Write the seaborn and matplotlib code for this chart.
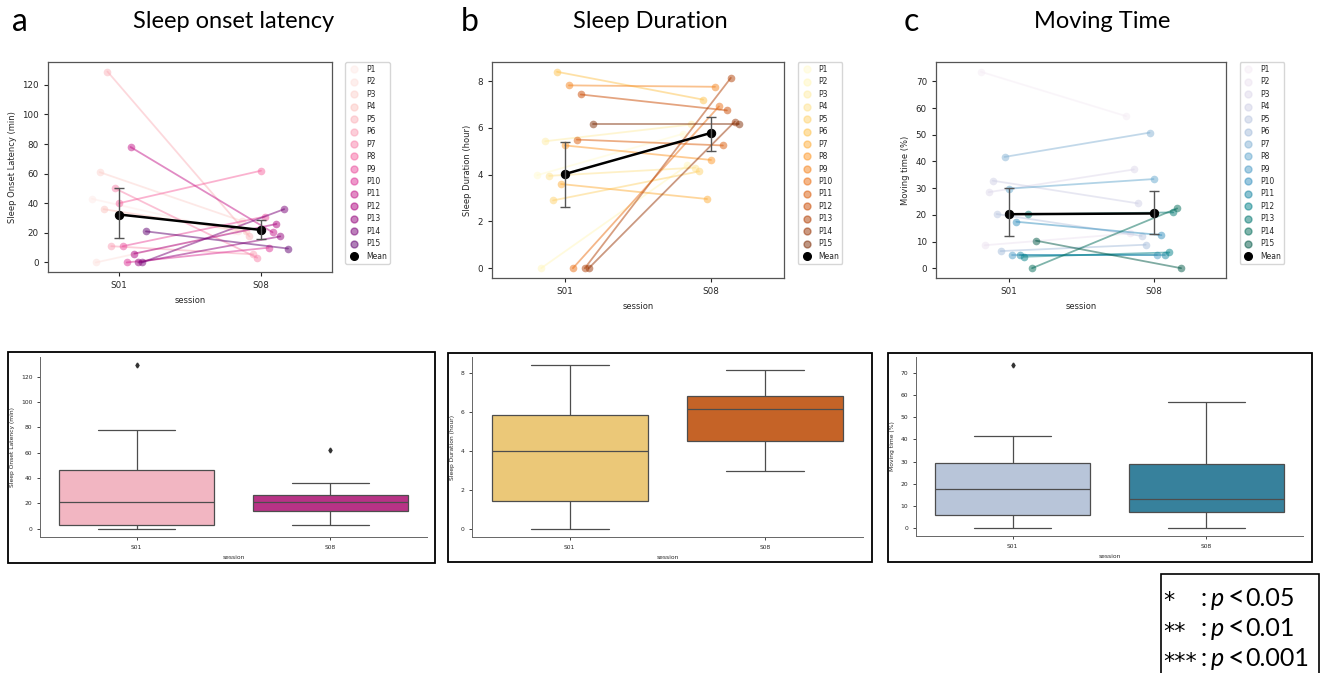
import numpy as np
import pandas as pd
import matplotlib
matplotlib.use("Agg")
import matplotlib.pyplot as plt
from matplotlib.lines import Line2D
from matplotlib.patches import Rectangle
import seaborn as sns

# ---------------- data ----------------
participants = [f"P{i}" for i in range(1, 16)]
sessions = ["S01", "S08"]

sol_s01 = [43, 0, 61, 36, 129, 11, 50, 40, 11, 0, 78, 6, 0, 0, 21]
sol_s08 = [21, 21, 28, 21, 17.6, 5.5, 3.2, 62, 31, 10, 20.4, 26, 17.6, 36, 9.4]

dur_s01 = [3.98, 0, 5.43, 3.95, 2.9, 8.4, 3.6, 5.25, 7.82, 0, 5.5, 7.43, 0, 0, 6.17]
dur_s08 = [5.75, 4.4, 6.15, 4.3, 4.14, 7.21, 2.96, 4.63, 7.76, 6.92, 5.25, 6.75, 8.14, 6.27, 6.17]

mov_s01 = [73.6, 8.6, 28.5, 32.8, 20.3, 6.4, 41.7, 29.8, 4.8, 17.4, 4.8, 4.3, 20.2, 0, 10.3]
mov_s08 = [57, 13, 37, 24.3, 12.1, 8.8, 50.8, 33.4, 4.8, 12.4, 4.8, 5.9, 20.9, 22.4, 0]

titles = ["Sleep onset latency", "Sleep Duration", "Moving Time"]
letters = ["a", "b", "c"]
ylabels = ["Sleep Onset Latency (min)", "Sleep Duration (hour)", "Moving time (%)"]
p_levels = ["*", "**", "***"]
p_values = ["0.05", "0.01", "0.001"]

# ---------------- style / layout ----------------
sns.set_style("ticks")
plt.rcParams["font.family"] = ["DejaVu Sans"]
TITLE_FONT = ["Lato", "DejaVu Sans"]

W, H = 1327, 673
fig = plt.figure(figsize=(W / 100, H / 100), dpi=100)


def px_axes(l, t, r, b):
    return fig.add_axes([l / W, 1 - b / H, (r - l) / W, (b - t) / H])


def px_rect(l, t, r, b, lw=1.3):
    fig.add_artist(Rectangle((l / W, 1 - b / H), (r - l) / W, (b - t) / H,
                             transform=fig.transFigure, fill=False,
                             edgecolor="black", linewidth=lw))


cfg = [
    dict(s01=sol_s01, s08=sol_s08, cmap="RdPu", box=["#f2b6c2", "#b83386"],
         top=(48, 62, 332, 272), bot=(40, 357, 427, 537), frame=(8, 352, 435, 563),
         title_x=234, letter_x=20),
    dict(s01=dur_s01, s08=dur_s08, cmap="YlOrBr", box=["#ebc878", "#c56327"],
         top=(492, 62, 784, 278), bot=(472, 357, 863, 537), frame=(448, 353, 872, 562),
         title_x=650, letter_x=470),
    dict(s01=mov_s01, s08=mov_s08, cmap="PuBuGn", box=["#b8c5d9", "#37819c"],
         top=(936, 62, 1226, 278), bot=(916, 357, 1303, 536), frame=(888, 353, 1312, 562),
         title_x=1102, letter_x=911),
]

offsets = np.linspace(-0.19, 0.19, len(participants))

for i, c in enumerate(cfg):
    n = len(participants)
    df = pd.DataFrame({
        "participant": participants * 2,
        "session": [sessions[0]] * n + [sessions[1]] * n,
        "value": list(c["s01"]) + list(c["s08"]),
    })
    df["snum"] = np.repeat([0, 1], n)
    df["xpos"] = df["snum"] + np.tile(offsets, 2)

    pal = sns.color_palette(c["cmap"], n)

    # ---- top: paired lines ----
    ax = px_axes(*c["top"])
    sns.lineplot(data=df, x="xpos", y="value", hue="participant", palette=pal,
                 estimator=None, marker="o", markersize=5.5, markeredgewidth=0,
                 linewidth=1.3, alpha=0.5, legend=False, ax=ax)
    sns.lineplot(data=df, x="snum", y="value", color="black", marker="o",
                 markersize=6, markeredgecolor="black", linewidth=1.8,
                 errorbar=("ci", 95), err_style="bars", seed=0,
                 err_kws=dict(capsize=3.5, elinewidth=1.0, capthick=1.0, ecolor="#555555"),
                 legend=False, ax=ax)
    ax.set_xticks([0, 1])
    ax.set_xticklabels(sessions)
    ax.set_xlim(-0.5, 1.5)
    ax.set_xlabel("session", fontsize=6)
    ax.set_ylabel(ylabels[i], fontsize=6)
    ax.tick_params(labelsize=6.3, length=3, width=0.8)
    for s in ax.spines.values():
        s.set_color("#555555")
        s.set_linewidth(0.9)

    handles = [Line2D([], [], marker="o", ls="", color=pal[k], alpha=0.5, markersize=5)
               for k in range(n)]
    handles.append(Line2D([], [], marker="o", ls="", color="black", markersize=5.5))
    ax.legend(handles, participants + ["Mean"], loc="upper left",
              bbox_to_anchor=(1.047, 1.0), borderaxespad=0, fontsize=5.5,
              labelspacing=0.45, handletextpad=0.8, handlelength=1.5,
              frameon=True)

    # ---- bottom: boxplots ----
    ax2 = px_axes(*c["bot"])
    sns.boxplot(data=df, x="session", y="value", hue="session", order=sessions,
                hue_order=sessions, palette=c["box"], legend=False, width=0.8,
                saturation=1, linewidth=0.9, linecolor="#4d4d4d",
                flierprops=dict(marker="d", markersize=2.5, markerfacecolor="#333333",
                                markeredgecolor="#333333"), ax=ax2)
    sns.despine(ax=ax2)
    ax2.set_xlabel("session", fontsize=4.3)
    ax2.set_ylabel(ylabels[i], fontsize=4.3)
    ax2.tick_params(labelsize=4.3, length=2, width=0.6)
    for s in ax2.spines.values():
        s.set_color("#666666")
        s.set_linewidth(0.7)
    px_rect(*c["frame"])

    # ---- titles ----
    fig.text(c["letter_x"] / W, 1 - 22 / H, letters[i], fontsize=23, color="black",
             ha="center", va="center", family=TITLE_FONT)
    fig.text(c["title_x"] / W, 1 - 22 / H, titles[i], fontsize=17, color="black",
             ha="center", va="center", family=TITLE_FONT)

# ---- significance key ----
px_rect(1161, 574, 1319, 690, lw=1.2)
for k in range(3):
    y = 1 - (598 + 30.5 * k) / H
    kw = dict(ha="left", va="center", color="black", family=TITLE_FONT)
    fig.text(1163 / W, 1 - (601 + 30.5 * k) / H, p_levels[k], fontsize=16,
             ha="left", va="center", color="black", family=["DejaVu Sans"])
    fig.text(1200 / W, y, ":", fontsize=18, **kw)
    fig.text(1211 / W, y, "p", style="italic", fontsize=18, **kw)
    fig.text(1228 / W, y + 1 / H, "<", fontsize=21, **kw)
    fig.text(1245 / W, y, p_values[k], fontsize=18, **kw)

fig.savefig("out.png", dpi=100, facecolor="white")
